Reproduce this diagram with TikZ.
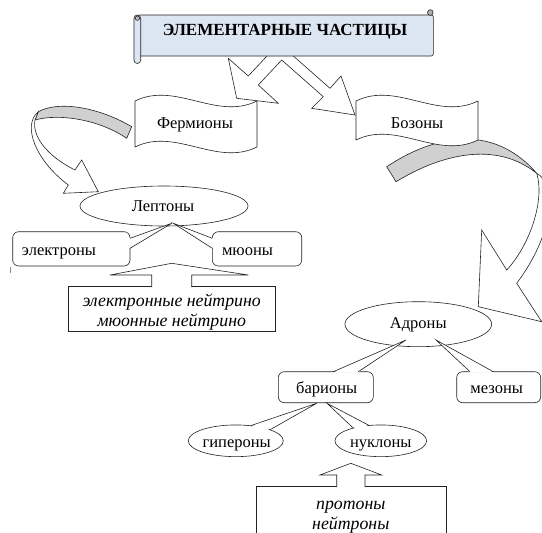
\documentclass[tikz,border=0pt]{standalone}
\usepackage{fontspec}
\newfontfamily\lserif{LiberationSerif}[Extension=.ttf,UprightFont=*-Regular,BoldFont=*-Bold,ItalicFont=*-Italic,BoldItalicFont=*-BoldItalic]
\usetikzlibrary{shapes.geometric,calc}
\definecolor{bannerblue}{RGB}{220,230,242}
\definecolor{bandgray}{RGB}{208,208,208}
\definecolor{inkc}{RGB}{35,35,35}
\begin{document}
\begin{tikzpicture}[x=1pt,y=-1pt,line width=0.6pt,
  txt/.style={font=\lserif\fontsize{16.5}{19}\selectfont,inner sep=0pt},
  itxt/.style={font=\lserif\fontsize{17.8}{20}\selectfont\itshape,inner sep=0pt},
  rbox/.style={draw=inkc,fill=white,rounded corners=6pt,inner sep=0pt},
  pbox/.style={draw=inkc,fill=white,inner sep=0pt},
  oval/.style={draw=inkc,fill=white,ellipse,inner sep=0pt},
  shp/.style={draw=inkc,fill=white,line join=miter},
  band/.style={draw=inkc,fill=bandgray,line join=miter},
  wedge/.style={draw=inkc}]
\useasboundingbox (0,0) rectangle (542,533);
\clip (0,0) rectangle (542,533);

% left curved arrow
\path[band] (131.7,126.7) .. controls (100,108) and (60,100) .. (38.3,111.7) -- (35,120) .. controls (60,113) and (100,120) .. (126.7,138.3) -- cycle;
\path[shp] (38.3,111.7) .. controls (22,125) and (35,160) .. (68.3,185) -- (63.3,193.3) -- (98.3,191.7) -- (81.7,160) -- (75,170) .. controls (45,155) and (32,135) .. (35,120) -- cycle;

% right curved arrow
\path[band] (386.7,166.7) .. controls (430,138) and (490,120) .. (536.7,173.3) .. controls (495,140) and (440,155) .. (396,181.7) -- cycle;
\path[shp] (536.7,173.3) .. controls (558,185) and (553,235) .. (516.7,283.3) -- (541.7,321.7) -- (478.3,306.7) -- (481.7,230) -- (506.7,270) .. controls (530,245) and (545,200) .. (536.7,173.3) -- cycle;

% flags
\path[shp] (135,101) .. controls (175.7,81) and (216.3,121) .. (257,101) -- (257,147) .. controls (216.3,167) and (175.7,127) .. (135,147) -- cycle;
\node[txt,anchor=base] (ferm) at (195,128) {Фермионы};
\path[shp] (356,101) .. controls (396.7,81) and (437.3,121) .. (478,101) -- (478,140) .. controls (437.3,160) and (396.7,120) .. (356,140) -- cycle;
\node[txt,anchor=base] (boz) at (417,128) {Бозоны};

% block arrows from the title
\path[shp] (272.6,50) -- (248.3,76) -- (228.3,58.3) -- (236.7,98.3) -- (278.3,103.3) -- (258.3,85) -- (281.7,60) -- (323.3,96.7) -- (311.7,108.3) -- (355,115) -- (341,76) -- (330,88.3) -- (286.5,50) -- cycle;

% title scroll
\path[draw=inkc,fill=bannerblue,rounded corners=2pt] (138,15) rectangle (433.3,56);
\path[draw=inkc,fill=bannerblue,rounded corners=3.3pt] (134,15) rectangle (140.7,63.5);
\path[draw=inkc,fill=black!25] (137.4,18.2) circle (2.2);
\path[draw=inkc,fill=black!30] (430.3,12.5) circle (2.8);
\node[font=\lserif\bfseries\fontsize{17}{19}\selectfont,inner sep=0pt,anchor=base] (title) at (285,35.5) {ЭЛЕМЕНТАРНЫЕ ЧАСТИЦЫ};

% Leptons
\node[oval,minimum width=168,minimum height=40] (lept) at (164,206) {};
\node[txt,anchor=base] (leptt) at (163,211.5) {Лептоны};

\node[rbox,minimum width=117.3,minimum height=34.3] (el) at (71.35,248.85) {};
\coordinate (elTip) at (171.7,223.3);
\fill[white] (129,238.3) -- (elTip) -- (129,248.3) -- cycle;
\draw[wedge] (130,238.3) -- (elTip) -- (130,248.3);
\node[txt,anchor=base west] (elt) at (21.7,255.5) {электроны};

\node[rbox,minimum width=89.4,minimum height=34.3] (mu) at (257,248.85) {};
\coordinate (muTip) at (173.3,223.3);
\fill[white] (213.3,238.3) -- (muTip) -- (213.3,248.3) -- cycle;
\draw[wedge] (212.3,238.3) -- (muTip) -- (212.3,248.3);
\node[txt,anchor=base west] (mut) at (221.7,255.5) {мюоны};

\draw[black!45,line width=0.5pt] (10,267) -- (10,273);

\node[pbox,minimum width=206.7,minimum height=45] (neu) at (171.65,309.2) {};
\path[shp] (151.7,287.2) -- (151.7,275) -- (110,275) -- (171.7,263.3) -- (248.3,275) -- (191.7,275) -- (191.7,287.2);
\node[itxt,anchor=base] (n1) at (171.7,306.5) {электронные нейтрино};
\node[itxt,anchor=base] (n2) at (171.7,326.5) {мюонные нейтрино};

% Hadrons
\node[oval,minimum width=146.7,minimum height=45] (adr) at (418.3,324.2) {};
\node[txt,anchor=base] (adrt) at (418.3,328.3) {Адроны};

\node[rbox,minimum width=95,minimum height=31] (bar) at (325.8,387.2) {};
\coordinate (barTip) at (406,340);
\fill[white] (333.3,372.5) -- (barTip) -- (358.3,372.5) -- cycle;
\draw[wedge] (333.3,371.7) -- (barTip) -- (358.3,371.7);
\node[txt,anchor=base] (bart) at (326.7,393.3) {барионы};

\node[rbox,minimum width=84,minimum height=31] (mez) at (498.7,387.2) {};
\coordinate (mezTip) at (436,340);
\fill[white] (470,372.5) -- (mezTip) -- (493.3,372.5) -- cycle;
\draw[wedge] (470,371.7) -- (mezTip) -- (493.3,371.7);
\node[txt,anchor=base] (mezt) at (496.7,393.3) {мезоны};

\node[oval,minimum width=95,minimum height=31.7] (hyp) at (235.8,440.8) {};
\coordinate (hypTip) at (316.7,403.3);
\fill[white] ($(hyp.45)!0.15!(hyp.center)$) -- (hypTip) -- ($(hyp.18)!0.15!(hyp.center)$) -- cycle;
\draw[wedge] (hyp.45) -- (hypTip) -- (hyp.18);
\node[txt,anchor=base] (hypt) at (236.7,447) {гипероны};

\node[oval,minimum width=91.7,minimum height=31.7] (nuk) at (380.8,440.8) {};
\coordinate (nukTip) at (327,403.3);
\fill[white] ($(nuk.128)!0.15!(nuk.center)$) -- (nukTip) -- ($(nuk.155)!0.15!(nuk.center)$) -- cycle;
\draw[wedge] (nuk.128) -- (nukTip) -- (nuk.155);
\node[txt,anchor=base] (nukt) at (380.8,447) {нуклоны};

\node[pbox,minimum width=190,minimum height=70] (prot) at (351.7,521.7) {};
\path[shp] (336.7,487.2) -- (336.7,475) -- (320,475) -- (350.8,463.3) -- (381.7,475) -- (365,475) -- (365,487.2);
\node[itxt,anchor=base] (p1) at (350.8,509) {протоны};
\node[itxt,anchor=base] (p2) at (350.8,529) {нейтроны};
\end{tikzpicture}
\end{document}
